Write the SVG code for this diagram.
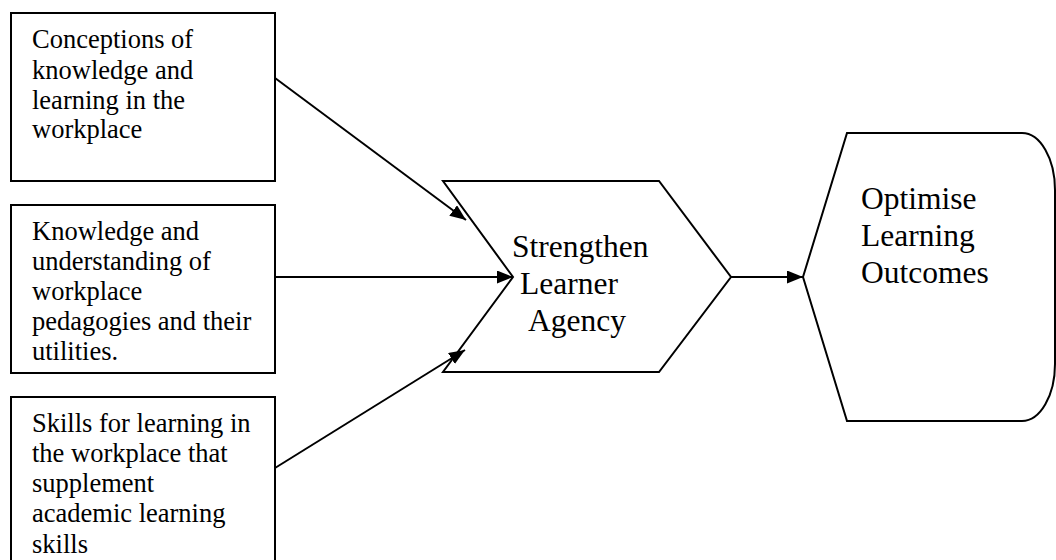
<svg xmlns="http://www.w3.org/2000/svg" width="1056" height="560" viewBox="0 0 1056 560">
<defs>
<style>
.box{fill:#fff;stroke:#000;stroke-width:2}
.t{font-family:"Liberation Serif","Times New Roman",serif;fill:#000}
.s{font-size:26.5px}
.b{font-size:31.5px}
.c{stroke:#000;stroke-width:2;fill:none}
</style>
<marker id="ah" markerUnits="userSpaceOnUse" markerWidth="17" markerHeight="14" refX="16" refY="6.5" orient="auto" viewBox="0 0 17 14">
<path d="M0,0 L16,6.5 L0,13 Z" fill="#000"/>
</marker>
</defs>
<rect width="1056" height="560" fill="#fff"/>
<g id="n1">
<rect class="box" x="11" y="13" width="264" height="168"/>
<text class="t s" x="32" y="48"><tspan x="32" y="48">Conceptions of</tspan><tspan x="32" y="79">knowledge and</tspan><tspan x="32" y="109">learning in the</tspan><tspan x="32" y="138">workplace</tspan></text>
</g>
<g id="n2">
<rect class="box" x="11" y="205" width="264" height="168"/>
<text class="t s"><tspan x="32" y="240">Knowledge and</tspan><tspan x="32" y="270">understanding of</tspan><tspan x="32" y="300">workplace</tspan><tspan x="32" y="330">pedagogies and their</tspan><tspan x="32" y="360">utilities.</tspan></text>
</g>
<g id="n3">
<rect class="box" x="11" y="397" width="264" height="180"/>
<text class="t s"><tspan x="32" y="432">Skills for learning in</tspan><tspan x="32" y="462">the workplace that</tspan><tspan x="32" y="492">supplement</tspan><tspan x="32" y="522">academic learning</tspan><tspan x="32" y="553">skills</tspan></text>
</g>
<g id="n4">
<path class="box" d="M443,181 L659,181 L731,277 L659,372 L443,372 L513,277 Z"/>
<text class="t b"><tspan x="512" y="257">Strengthen</tspan><tspan x="520" y="294">Learner</tspan><tspan x="528" y="331">Agency</tspan></text>
</g>
<g id="n5">
<path class="box" d="M847,133 L1022,133 A33,57 0 0 1 1055,190 L1055,364 A33,57 0 0 1 1022,421 L847,421 L803,277 Z"/>
<text class="t b"><tspan x="861" y="209">Optimise</tspan><tspan x="861" y="246">Learning</tspan><tspan x="861" y="283">Outcomes</tspan></text>
</g>
<g id="connectors">
<line class="c" x1="275" y1="78" x2="466" y2="220" marker-end="url(#ah)"/>
<line class="c" x1="275" y1="277" x2="513" y2="277" marker-end="url(#ah)"/>
<line class="c" x1="275" y1="468" x2="465" y2="350" marker-end="url(#ah)"/>
<line class="c" x1="731" y1="277" x2="803" y2="277" marker-end="url(#ah)"/>
</g>
</svg>
